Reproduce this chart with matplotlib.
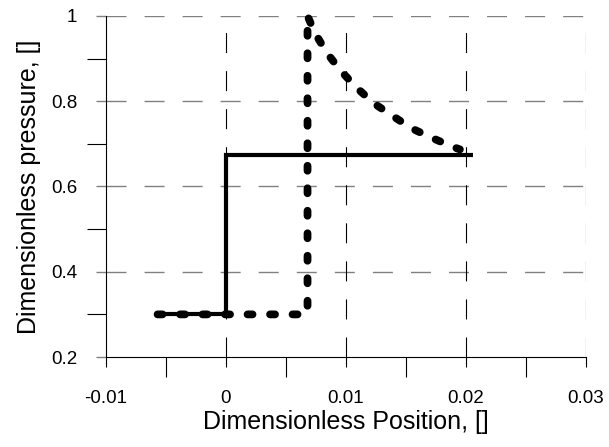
import numpy as np
import matplotlib
matplotlib.use('Agg')
import matplotlib.pyplot as plt
import matplotlib.ticker as mticker

plt.rcParams['font.family'] = ['Liberation Sans', 'DejaVu Sans']
plt.rcParams['lines.scale_dashes'] = False

# ------------------------------------------------------------
# data
# ------------------------------------------------------------
solid_x = [-0.0057, 0.0, 0.0, 0.0206]
solid_y = [0.3, 0.3, 0.675, 0.675]

dotted_x = [-0.0057, 0.0067, 0.0068, 0.0068, 0.00742, 0.00842, 0.00958, 0.01092,
            0.01233, 0.01392, 0.0155, 0.01725, 0.0190, 0.0195]
dotted_y = [0.3, 0.3, 0.32, 1.0, 0.960, 0.913, 0.871, 0.831,
            0.795, 0.765, 0.736, 0.713, 0.692, 0.687]

x_major = [-0.01, 0.0, 0.01, 0.02, 0.03]
x_minor = [-0.005, 0.005, 0.015, 0.025]
y_major = [0.2, 0.4, 0.6, 0.8, 1.0]
y_minor = [0.3, 0.5, 0.7, 0.9]

fig = plt.figure(figsize=(6.09, 4.47), dpi=100)
ax = fig.add_axes([0.174, 0.2013, 0.788, 0.763])

ax.set_xlim(-0.01, 0.03)
ax.set_ylim(0.2, 1.0)

grid_dash = (0, (14.4, 13.0))
# horizontal grid, gray
for yv in y_major[1:]:
    ax.axhline(yv, color='#808080', lw=1.0, linestyle=grid_dash, zorder=1)
# vertical grid, black
for xv in x_major[1:]:
    ax.axvline(xv, color='black', lw=0.8, linestyle=grid_dash, zorder=1)

ax.plot(solid_x, solid_y, color='black', lw=3.0, solid_capstyle='butt',
        solid_joinstyle='miter', zorder=3, clip_on=False)
ax.plot(dotted_x, dotted_y, color='black', lw=5.6,
        linestyle=(0, (5.0 / 1.389 * 1.0, 17.5 / 1.389)),
        dash_capstyle='round', zorder=4, clip_on=False)

ax.spines['top'].set_visible(False)
ax.spines['right'].set_visible(False)
for s in ('left', 'bottom'):
    ax.spines[s].set_linewidth(0.8)

ax.xaxis.set_major_locator(mticker.FixedLocator(x_major))
ax.xaxis.set_minor_locator(mticker.FixedLocator(x_minor))
ax.yaxis.set_major_locator(mticker.FixedLocator(y_major))
ax.yaxis.set_minor_locator(mticker.FixedLocator(y_minor))
fmt = mticker.FuncFormatter(lambda v, p: '%g' % round(v, 4))
ax.xaxis.set_major_formatter(fmt)
ax.yaxis.set_major_formatter(fmt)

ax.tick_params(axis='x', which='major', direction='out', length=7.2, width=0.8,
               color='black', labelsize=13.5, pad=16.5)
ax.tick_params(axis='x', which='minor', direction='out', length=14.4, width=0.8,
               color='black')
ax.tick_params(axis='y', which='major', direction='out', length=7.2, width=1.0,
               color='#808080', labelsize=13.5, pad=13.5)
ax.tick_params(axis='y', which='minor', direction='out', length=13.7, width=0.8,
               color='black')

ax.set_xlabel('Dimensionless Position, []', fontsize=18, labelpad=2)
ax.set_ylabel('Dimensionless pressure, []', fontsize=18, labelpad=7)

fig.savefig('out.png', dpi=100)
